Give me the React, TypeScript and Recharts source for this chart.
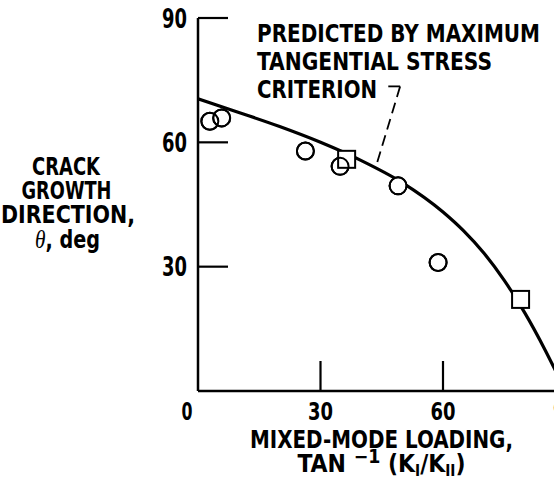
import React from 'react';
import { ComposedChart, Line, Scatter, XAxis, YAxis, ReferenceLine } from 'recharts';

// Predicted curve (maximum tangential stress criterion)
const curveBeta = [0, 10, 20, 30, 40, 50, 60, 65, 70, 75, 80, 85, 87.5, 90];
const curveTheta = [70.5, 67.2, 63.8, 60.0, 55.6, 50.3, 43.2, 38.7, 33.3, 26.7, 18.9, 9.9, 5.0, 0];

// Circle data points
const circleBeta = [2.9, 5.8, 26.3, 34.8, 49.0, 58.8];
const circleTheta = [65.1, 65.9, 57.9, 54.2, 49.5, 31.0];

// Square data points
const squareBeta = [36.4, 79.0];
const squareTheta = [55.9, 22.1];

const xTicks = [0, 30, 60, 90];
const yTicks = [0, 30, 60, 90];

// Leader line of the annotation (data coordinates)
const leaderHook = [
  { x: 46.6, y: 73.5 },
  { x: 49.5, y: 73.5 },
];
const leaderDash = [
  { x: 49.5, y: 73.5 },
  { x: 43.9, y: 55.2 },
];

const curve = curveBeta.map((b, i) => ({ x: b, y: curveTheta[i] }));
const circles = circleBeta.map((b, i) => ({ x: b, y: circleTheta[i] }));
const squares = squareBeta.map((b, i) => ({ x: b, y: squareTheta[i] }));

const FONT = '"Liberation Sans Narrow", "DejaVu Sans Condensed", "Roboto Condensed", "Liberation Sans", sans-serif';

function YTick(props: any) {
  const { x, y, payload } = props;
  if (payload.value === 0) return null;
  return (
    <g>
      <line x1={x} y1={y} x2={x + 30} y2={y} stroke="#000" strokeWidth={2.2} />
      <text x={x - 11} y={y} dy="0.36em" textAnchor="end" fontFamily={FONT} fontWeight="bold" fontSize={27} fill="#000"
        textLength={25} lengthAdjust="spacingAndGlyphs">
        {payload.value}
      </text>
    </g>
  );
}

function XTick(props: any) {
  const { x, y, payload } = props;
  const isZero = payload.value === 0;
  return (
    <g>
      {!isZero && <line x1={x} y1={y} x2={x} y2={y - 30} stroke="#000" strokeWidth={2.2} />}
      <text x={isZero ? x - 11 : x} y={y + 29} textAnchor="middle" fontFamily={FONT} fontWeight="bold" fontSize={25} fill="#000"
        textLength={isZero ? 11 : 25} lengthAdjust="spacingAndGlyphs">
        {payload.value}
      </text>
    </g>
  );
}

const circleShape = (fill: string) => (props: any) => {
  const { cx, cy } = props;
  return <circle cx={cx} cy={cy} r={8.5} fill={fill} stroke="#000" strokeWidth={2} />;
};

const squareShape = (props: any) => {
  const { cx, cy } = props;
  return <rect x={cx - 8.5} y={cy - 8.5} width={17} height={17} fill="#fff" stroke="#000" strokeWidth={2} />;
};

const LA = 'spacingAndGlyphs';

export default function App() {
  return (
    <div style={{ position: 'fixed', left: 0, top: 0, width: 554, height: 483, overflow: 'hidden', background: '#fff' }}>
      <ComposedChart width={600} height={483} margin={{ top: 18, right: 34.5, bottom: 62, left: 138 }}>
        <XAxis
          type="number"
          dataKey="x"
          domain={[0, 90]}
          ticks={xTicks}
          height={30}
          tickSize={0}
          tickMargin={0}
          tickLine={false}
          axisLine={{ stroke: '#000', strokeWidth: 2.5 }}
          tick={<XTick />}
          allowDataOverflow
        />
        <YAxis
          type="number"
          dataKey="y"
          domain={[0, 90]}
          ticks={yTicks}
          width={60}
          tickSize={0}
          tickMargin={0}
          tickLine={false}
          axisLine={{ stroke: '#000', strokeWidth: 2.5 }}
          tick={<YTick />}
          allowDataOverflow
        />
        <ReferenceLine segment={leaderHook} stroke="#000" strokeWidth={1.8} ifOverflow="visible" />
        <ReferenceLine segment={leaderDash} stroke="#000" strokeWidth={1.8} strokeDasharray="11 6" ifOverflow="visible" />
        <Line data={curve} dataKey="y" type="monotone" stroke="#000" strokeWidth={3.2} dot={false} isAnimationActive={false} />
        <Scatter data={circles} dataKey="y" shape={circleShape('#fff')} isAnimationActive={false} />
        <Scatter data={squares} dataKey="y" shape={squareShape} isAnimationActive={false} />
        <Scatter data={circles} dataKey="y" shape={circleShape('none')} isAnimationActive={false} />
      </ComposedChart>
      <svg width={554} height={483} style={{ position: 'absolute', left: 0, top: 0, pointerEvents: 'none' }}>
        <g fontFamily={FONT} fontWeight="bold" fill="#000">
          <text x={257} y={41.5} fontSize={24} textLength={283} lengthAdjust={LA}>PREDICTED BY MAXIMUM</text>
          <text x={257} y={69.5} fontSize={24} textLength={235} lengthAdjust={LA}>TANGENTIAL STRESS</text>
          <text x={257} y={97.5} fontSize={24} textLength={120} lengthAdjust={LA}>CRITERION</text>

          <text x={66} y={175} fontSize={25} textAnchor="middle" textLength={68} lengthAdjust={LA}>CRACK</text>
          <text x={66.5} y={199} fontSize={25} textAnchor="middle" textLength={90} lengthAdjust={LA}>GROWTH</text>
          <text x={68} y={223} fontSize={25} textAnchor="middle" textLength={134} lengthAdjust={LA}>DIRECTION,</text>
          <text x={67.5} y={248} fontSize={25} textAnchor="middle" textLength={65} lengthAdjust={LA}>
            <tspan fontFamily='"Liberation Serif", "DejaVu Serif", serif' fontStyle="italic" fontWeight="normal">θ</tspan>
            <tspan>, deg</tspan>
          </text>

          <text x={381.5} y={448} fontSize={24} textAnchor="middle" textLength={263} lengthAdjust={LA}>MIXED-MODE LOADING,</text>
          <text x={381.5} y={472} fontSize={24} textAnchor="middle" textLength={168} lengthAdjust={LA}>
            <tspan>TAN </tspan>
            <tspan fontSize={19} dy={-9}>−1</tspan>
            <tspan dy={9}>  (K</tspan>
            <tspan fontSize={15} dy={4}>I</tspan>
            <tspan dy={-4}>/K</tspan>
            <tspan fontSize={15} dy={4}>II</tspan>
            <tspan dy={-4}>)</tspan>
          </text>
        </g>
      </svg>
    </div>
  );
}
